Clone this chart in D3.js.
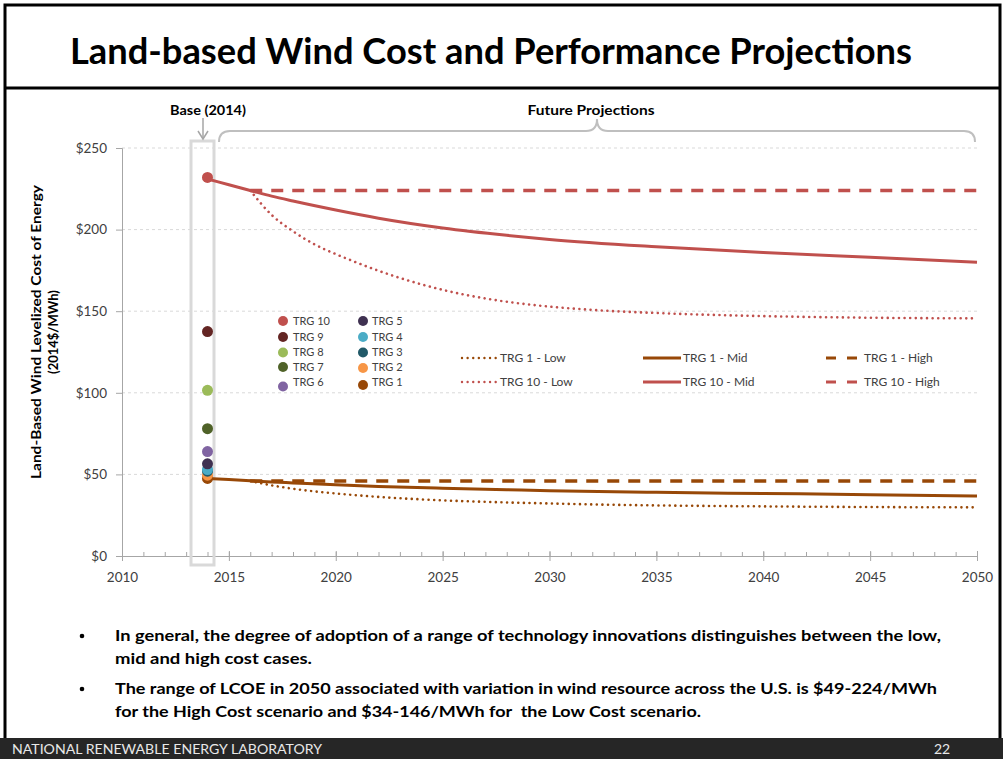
<!DOCTYPE html>
<html>
<head>
<meta charset="utf-8">
<script src="https://cdn.jsdelivr.net/npm/d3@7"></script>
<style>
  body { margin: 0; background: #fff; }
  svg { display: block; font-family: Lato, "Open Sans", sans-serif; }
  text { white-space: pre; }
</style>
</head>
<body>
<svg id="chart" width="1003" height="759"></svg>
<script>
// base year dots (2014), TRG 1 .. TRG 10
const trgNames = ["TRG 1", "TRG 2", "TRG 3", "TRG 4", "TRG 5", "TRG 6", "TRG 7", "TRG 8", "TRG 9", "TRG 10"];
const trgColors = ["#984807", "#f79646", "#215968", "#4bacc6", "#3f3151", "#8064a2", "#4f6228", "#9bbb59", "#632523", "#c0504d"];
const baseLcoe = [47.5, 49.5, 52, 53, 56.5, 64, 78, 101.5, 137.5, 232];

// projections
const yearsMid = [2014, 2015, 2016, 2017, 2018, 2020, 2022, 2025, 2028, 2030, 2035, 2040, 2045, 2050];
const trg10Mid = [231, 227.5, 224, 220.5, 217.5, 212, 207, 201, 196.5, 194, 189.5, 186, 183, 180];
const trg1Mid = [47.5, 46.8, 46.1, 45.4, 44.8, 43.6, 42.6, 41.5, 40.6, 40, 39, 38.3, 37.6, 36.8];

const yearsLow = [2016, 2017, 2018, 2019, 2020, 2021, 2022, 2023, 2024, 2025, 2026, 2027, 2028, 2030, 2032, 2035, 2040, 2045, 2050];
const trg10Low = [224, 209, 199, 191, 185, 179.7, 174.8, 170.4, 166.5, 163.1, 160.2, 157.8, 155.8, 152.8, 150.8, 148.9, 147, 146, 145.6];
const trg1Low = [46, 43.3, 41.2, 39.6, 38.3, 37.2, 36.2, 35.4, 34.7, 34.1, 33.6, 33.2, 32.8, 32.2, 31.6, 31, 30.4, 30, 29.8];

const yearsHigh = [2016, 2050];
const trg10High = [224, 224];
const trg1High = [46, 46];

const yTicks = [0, 50, 100, 150, 200, 250];
const xMajor = [2010, 2015, 2020, 2025, 2030, 2035, 2040, 2045, 2050];

const svg = d3.select("#chart");
const W = 1003, H = 759;

const x = d3.scaleLinear().domain([2010, 2050]).range([122, 977]);
const y = d3.scaleLinear().domain([0, 250]).range([556, 148]);

// slide frame
svg.append("rect").attr("x", 0).attr("y", 0).attr("width", W).attr("height", H).attr("fill", "#fff");
svg.append("path")
    .attr("d", "M5,738 V5 H1000 V738")
    .attr("fill", "none").attr("stroke", "#000").attr("stroke-width", 3);
svg.append("line").attr("x1", 5).attr("x2", 1000).attr("y1", 88).attr("y2", 88)
    .attr("stroke", "#000").attr("stroke-width", 3);

svg.append("text")
    .attr("x", 70).attr("y", 64)
    .attr("font-size", 37).attr("font-weight", "bold").attr("fill", "#000")
    .attr("textLength", 842).attr("lengthAdjust", "spacingAndGlyphs")
    .text("Land-based Wind Cost and Performance Projections");

// gridlines
svg.append("g").selectAll("line")
    .data(yTicks.filter(d => d > 0))
    .join("line")
    .attr("x1", x(2010)).attr("x2", x(2050))
    .attr("y1", d => y(d)).attr("y2", d => y(d))
    .attr("stroke", "#d9d9d9").attr("stroke-width", 1).attr("stroke-dasharray", "3,3");

// axes
const yAxis = svg.append("g")
    .attr("transform", `translate(${x(2010)},0)`)
    .call(d3.axisLeft(y).tickValues(yTicks).tickFormat(d => "$" + d).tickSize(6).tickPadding(9));
yAxis.select(".domain").attr("stroke", "#a6a6a6");
yAxis.selectAll(".tick line").attr("stroke", "#a6a6a6");
yAxis.selectAll("text").attr("font-size", 13.5).attr("fill", "#404040").attr("font-family", "Lato, sans-serif");

const xMinor = svg.append("g")
    .attr("transform", `translate(0,${y(0)})`)
    .call(d3.axisBottom(x).tickValues(d3.range(2010, 2051)).tickFormat("").tickSize(-4).tickSizeOuter(0));
xMinor.select(".domain").attr("stroke", "#a6a6a6");
xMinor.selectAll(".tick line").attr("stroke", "#a6a6a6");

const xAxis = svg.append("g")
    .attr("transform", `translate(0,${y(0)})`)
    .call(d3.axisBottom(x).tickValues(xMajor).tickFormat(d3.format("d")).tickSize(5).tickPadding(11).tickSizeOuter(0));
xAxis.select(".domain").remove();
xAxis.selectAll(".tick line").attr("y1", -5).attr("stroke", "#a6a6a6");
xAxis.selectAll("text").attr("font-size", 13.5).attr("fill", "#404040").attr("font-family", "Lato, sans-serif");

// y axis title
const yTitle = svg.append("g").attr("transform", "translate(0,332) rotate(-90)");
yTitle.append("text").attr("x", 0).attr("y", 41)
    .attr("text-anchor", "middle").attr("font-size", 13).attr("font-weight", "bold")
    .attr("textLength", 294).attr("lengthAdjust", "spacingAndGlyphs")
    .text("Land-Based Wind Levelized Cost of Energy");
yTitle.append("text").attr("x", 0).attr("y", 58)
    .attr("text-anchor", "middle").attr("font-size", 13).attr("font-weight", "bold")
    .text("(2014$/MWh)");

// base box, arrow and brace
svg.append("rect").attr("x", 191).attr("y", 141).attr("width", 23).attr("height", 424)
    .attr("fill", "none").attr("stroke", "#d9d9d9").attr("stroke-width", 3);
svg.append("line").attr("x1", 203).attr("x2", 203).attr("y1", 118).attr("y2", 138)
    .attr("stroke", "#a6a6a6").attr("stroke-width", 1.5);
svg.append("path").attr("d", "M198,131 L203,139 L208,131")
    .attr("fill", "none").attr("stroke", "#a6a6a6").attr("stroke-width", 1.5);
svg.append("path")
    .attr("d", "M219,142 Q219,131 230,131 L586,131 Q597,131 597,119 Q597,131 608,131 L964,131 Q975,131 975,142")
    .attr("fill", "none").attr("stroke", "#bfbfbf").attr("stroke-width", 2);
svg.append("text").attr("x", 208).attr("y", 115).attr("text-anchor", "middle")
    .attr("font-size", 14).attr("font-weight", "bold")
    .attr("textLength", 76).attr("lengthAdjust", "spacingAndGlyphs").text("Base (2014)");
svg.append("text").attr("x", 591).attr("y", 115).attr("text-anchor", "middle")
    .attr("font-size", 14).attr("font-weight", "bold")
    .attr("textLength", 127).attr("lengthAdjust", "spacingAndGlyphs").text("Future Projections");

// projection lines
const line = d3.line().x(d => x(d[0])).y(d => y(d[1])).curve(d3.curveMonotoneX);
const styles = {
    Low: { width: 2.6, dash: "0.01,5.6", cap: "round" },
    Mid: { width: 3, dash: null, cap: "butt" },
    High: { width: 3.5, dash: "12,9", cap: "butt" }
};
const series = [
    { name: "TRG 10 - High", color: "#c0504d", style: "High", years: yearsHigh, vals: trg10High },
    { name: "TRG 10 - Low", color: "#c0504d", style: "Low", years: yearsLow, vals: trg10Low },
    { name: "TRG 10 - Mid", color: "#c0504d", style: "Mid", years: yearsMid, vals: trg10Mid },
    { name: "TRG 1 - High", color: "#984807", style: "High", years: yearsHigh, vals: trg1High },
    { name: "TRG 1 - Low", color: "#984807", style: "Low", years: yearsLow, vals: trg1Low },
    { name: "TRG 1 - Mid", color: "#984807", style: "Mid", years: yearsMid, vals: trg1Mid }
];
svg.append("g").selectAll("path")
    .data(series)
    .join("path")
    .attr("d", s => line(s.years.map((yr, i) => [yr, s.vals[i]])))
    .attr("fill", "none")
    .attr("stroke", s => s.color)
    .attr("stroke-width", s => styles[s.style].width)
    .attr("stroke-dasharray", s => styles[s.style].dash)
    .attr("stroke-linecap", s => styles[s.style].cap);

// base dots
svg.append("g").selectAll("circle")
    .data(baseLcoe)
    .join("circle")
    .attr("cx", x(2014)).attr("cy", d => y(d)).attr("r", 5.5)
    .attr("fill", (d, i) => trgColors[i]);

// dot legend: column 1 TRG 10..6, column 2 TRG 5..1
const dotRows = [321, 337, 352.5, 368, 385];
const textRows = [321, 337, 352, 367, 382];
const dotLegend = svg.append("g").selectAll("g")
    .data(d3.range(10))
    .join("g");
dotLegend.append("circle")
    .attr("cx", i => i >= 5 ? 283 : 363)
    .attr("cy", i => (i >= 5 ? [386.5, 367, 352.5, 337, 321][i - 5] : dotRows[4 - i]))
    .attr("r", 5)
    .attr("fill", i => trgColors[i]);
dotLegend.append("text")
    .attr("x", i => i >= 5 ? 293 : 372)
    .attr("y", i => (i >= 5 ? textRows[9 - i] : textRows[4 - i]) + 4)
    .attr("font-size", 11).attr("fill", "#404040")
    .text(i => trgNames[i]);

// line legend
const lineLegend = [
    { name: "TRG 1 - Low", color: "#984807", style: "Low", x: 460, y: 358, tx: 500 },
    { name: "TRG 10 - Low", color: "#c0504d", style: "Low", x: 460, y: 382, tx: 500 },
    { name: "TRG 1 - Mid", color: "#984807", style: "Mid", x: 643, y: 358, tx: 683 },
    { name: "TRG 10 - Mid", color: "#c0504d", style: "Mid", x: 643, y: 382, tx: 683 },
    { name: "TRG 1 - High", color: "#984807", style: "High", x: 826, y: 358, tx: 864 },
    { name: "TRG 10 - High", color: "#c0504d", style: "High", x: 826, y: 382, tx: 864 }
];
const lg = svg.append("g").selectAll("g").data(lineLegend).join("g");
lg.append("line")
    .attr("x1", d => d.x + (d.style === "Low" ? 2 : 0)).attr("x2", d => d.x + (d.style === "High" ? 32 : 38))
    .attr("y1", d => d.y).attr("y2", d => d.y)
    .attr("stroke", d => d.color)
    .attr("stroke-width", d => d.style === "Low" ? 2.4 : 3)
    .attr("stroke-dasharray", d => d.style === "Low" ? "0.01,5.6" : (d.style === "High" ? "10,11" : null))
    .attr("stroke-linecap", d => styles[d.style].cap);
lg.append("text")
    .attr("x", d => d.tx).attr("y", d => d.y + 4)
    .attr("font-size", 12).attr("fill", "#404040")
    .text(d => d.name);

// bullets
const bullets = [
    { t: "In general, the degree of adoption of a range of technology innovations distinguishes between the low,", y: 641, len: 826, dot: true },
    { t: "mid and high cost cases.", y: 664, len: 197, dot: false },
    { t: "The range of LCOE in 2050 associated with variation in wind resource across the U.S. is $49-224/MWh", y: 694, len: 822, dot: true },
    { t: "for the High Cost scenario and $34-146/MWh for  the Low Cost scenario.", y: 717, len: 586, dot: false }
];
const bl = svg.append("g").selectAll("g").data(bullets).join("g");
bl.append("text")
    .attr("x", 115).attr("y", d => d.y)
    .attr("font-size", 16).attr("font-weight", "bold")
    .attr("textLength", d => d.len).attr("lengthAdjust", "spacingAndGlyphs")
    .text(d => d.t);
bl.filter(d => d.dot).append("circle")
    .attr("cx", 82).attr("cy", d => d.y - 5).attr("r", 2.3)
    .attr("fill", "#000");

// footer
svg.append("rect").attr("x", 0).attr("y", 738).attr("width", W).attr("height", 21).attr("fill", "#262626");
svg.append("text").attr("x", 12).attr("y", 754)
    .attr("font-size", 13).attr("fill", "#e8e8e8")
    .attr("textLength", 310).attr("lengthAdjust", "spacingAndGlyphs")
    .text("NATIONAL RENEWABLE ENERGY LABORATORY");
svg.append("text").attr("x", 942).attr("y", 754).attr("text-anchor", "middle")
    .attr("font-size", 14).attr("fill", "#e8e8e8")
    .text("22");
</script>
</body>
</html>
